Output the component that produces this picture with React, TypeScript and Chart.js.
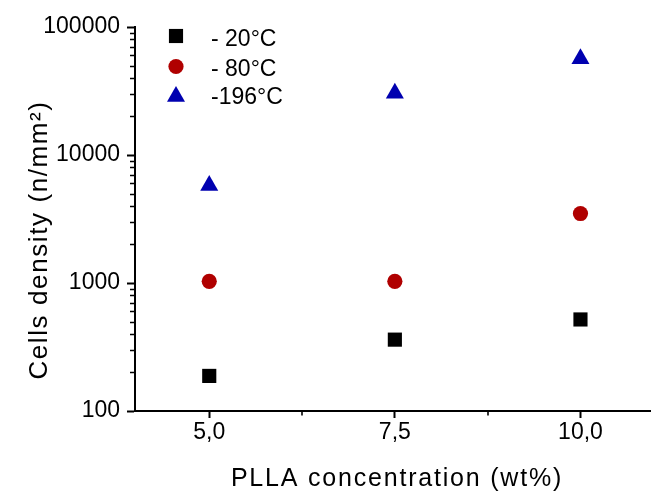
import React, { useEffect, useRef } from 'react';
import { Chart, registerables } from 'chart.js';

Chart.register(...registerables);

// ---- data ----
const concentrations = [5.0, 7.5, 10.0];
const seriesLabels = ['- 20°C', '- 80°C', '-196°C'];
const minus20 = [188, 361, 519];
const minus80 = [1030, 1030, 3490];
const minus196 = [5780, 30400, 56500];
const seriesColors = ['#000000', '#b00000', '#0000b0'];
const seriesStyles = ['rect', 'circle', 'triangle'];
const seriesRadius = [10, 7.6, 10.4];

const xMajorTicks = [5.0, 7.5, 10.0];
const xTickLabels = ['5,0', '7,5', '10,0'];
const xMinorTicks = [6.25, 8.75];
const yMajorTicks = [100, 1000, 10000, 100000];
const yTickLabels = ['100', '1000', '10000', '100000'];
const yMinorDecades = [100, 1000, 10000];
const yMinorMultipliers = [2, 3, 4, 5, 6, 7, 8, 9];

const xTitle = 'PLLA concentration (wt%)';
const yTitle = 'Cells density (n/mm²)';

const FONT = "'Liberation Sans', Arial, Helvetica, sans-serif";

function drawMarker(ctx: CanvasRenderingContext2D, style: string, x: number, y: number, r: number) {
  ctx.beginPath();
  if (style === 'rect') {
    const s = r * Math.SQRT1_2;
    ctx.rect(x - s, y - s, 2 * s, 2 * s);
  } else if (style === 'circle') {
    ctx.arc(x, y, r, 0, Math.PI * 2);
  } else {
    ctx.moveTo(x, y - r);
    ctx.lineTo(x + r * Math.sin((2 * Math.PI) / 3), y + r / 2);
    ctx.lineTo(x - r * Math.sin((2 * Math.PI) / 3), y + r / 2);
    ctx.closePath();
  }
  ctx.fill();
}

const decorPlugin = {
  id: 'decor',
  afterDraw(chart: any) {
    const ctx: CanvasRenderingContext2D = chart.ctx;
    const { left, bottom } = chart.chartArea;
    const xs = chart.scales.x;
    const ys = chart.scales.y;
    ctx.save();
    // minor ticks
    ctx.strokeStyle = '#000';
    ctx.lineWidth = 1.6;
    ctx.beginPath();
    for (const d of yMinorDecades) {
      for (const k of yMinorMultipliers) {
        const py = Math.round(ys.getPixelForValue(k * d)) + 0.5;
        ctx.moveTo(left - 5, py);
        ctx.lineTo(left, py);
      }
    }
    for (const v of xMinorTicks) {
      const px = Math.round(xs.getPixelForValue(v));
      ctx.moveTo(px, bottom);
      ctx.lineTo(px, bottom + 4.5);
    }
    ctx.stroke();

    // legend
    const markerX = 176;
    const markerY = [36, 66.5, 96.5];
    const textY = [46, 75.5, 104];
    ctx.font = `23px ${FONT}`;
    ctx.textAlign = 'left';
    ctx.textBaseline = 'alphabetic';
    chart.data.datasets.forEach((ds: any, i: number) => {
      ctx.fillStyle = seriesColors[i];
      drawMarker(ctx, seriesStyles[i], markerX, markerY[i], seriesRadius[i]);
      ctx.fillStyle = '#000';
      ctx.fillText(ds.label, 211, textY[i]);
    });

    // axis titles
    const anyCtx = ctx as any;
    ctx.fillStyle = '#000';
    ctx.textAlign = 'center';
    ctx.font = `25px ${FONT}`;
    if ('letterSpacing' in anyCtx) anyCtx.letterSpacing = '1.8px';
    ctx.fillText(xTitle, 397, 486);

    ctx.translate(47, 240);
    ctx.rotate(-Math.PI / 2);
    ctx.font = `26px ${FONT}`;
    if ('letterSpacing' in anyCtx) anyCtx.letterSpacing = '1.6px';
    ctx.fillText(yTitle, 0, 0);
    ctx.restore();
  },
};

export default function App() {
  const canvasRef = useRef<HTMLCanvasElement | null>(null);

  useEffect(() => {
    if (!canvasRef.current) return;
    const seriesValues = [minus20, minus80, minus196];
    const chart = new Chart(canvasRef.current, {
      type: 'scatter',
      data: {
        datasets: seriesValues.map((vals, i) => ({
          label: seriesLabels[i],
          data: concentrations.map((x, j) => ({ x, y: vals[j] })),
          pointStyle: seriesStyles[i] as any,
          pointRadius: seriesRadius[i],
          pointHoverRadius: seriesRadius[i],
          backgroundColor: seriesColors[i],
          borderColor: seriesColors[i],
          pointBorderWidth: 0,
          showLine: false,
        })),
      },
      options: {
        animation: false,
        responsive: false,
        devicePixelRatio: 1,
        layout: { autoPadding: false, padding: { top: 27, right: 0, left: 0, bottom: 0 } },
        plugins: {
          legend: { display: false },
          tooltip: { enabled: false },
        },
        scales: {
          x: {
            type: 'linear',
            min: 4,
            max: 10.95,
            afterBuildTicks: (axis: any) => {
              axis.ticks = xMajorTicks.map((v) => ({ value: v }));
            },
            afterFit: (axis: any) => {
              axis.height = 81;
              axis.paddingLeft = 0;
              axis.paddingRight = 0;
            },
            ticks: {
              callback: (v: any) => {
                const i = xMajorTicks.indexOf(Number(v));
                return i >= 0 ? xTickLabels[i] : '';
              },
              font: { family: FONT, size: 23 },
              color: '#000',
              padding: 1,
              maxRotation: 0,
              autoSkip: false,
            },
            grid: {
              drawOnChartArea: false,
              drawTicks: true,
              tickLength: 7,
              tickWidth: 2,
              tickColor: '#000',
            },
            border: { display: true, color: '#000', width: 2 },
          },
          y: {
            type: 'logarithmic',
            min: 100,
            max: 100000,
            afterBuildTicks: (axis: any) => {
              axis.ticks = yMajorTicks.map((v) => ({ value: v }));
            },
            afterFit: (axis: any) => {
              axis.width = 135;
              axis.paddingTop = 0;
              axis.paddingBottom = 0;
            },
            ticks: {
              callback: (v: any) => {
                const i = yMajorTicks.indexOf(Number(v));
                return i >= 0 ? yTickLabels[i] : '';
              },
              font: { family: FONT, size: 23 },
              color: '#000',
              padding: 7,
              autoSkip: false,
            },
            grid: {
              drawOnChartArea: false,
              drawTicks: true,
              tickLength: 8,
              tickWidth: 2,
              tickColor: '#000',
            },
            border: { display: true, color: '#000', width: 2 },
          },
        },
      },
      plugins: [decorPlugin],
    });
    return () => chart.destroy();
  }, []);

  return (
    <div style={{ position: 'fixed', left: 0, top: 0, width: 651, height: 492, background: '#fff' }}>
      <canvas ref={canvasRef} width={651} height={492} />
    </div>
  );
}
